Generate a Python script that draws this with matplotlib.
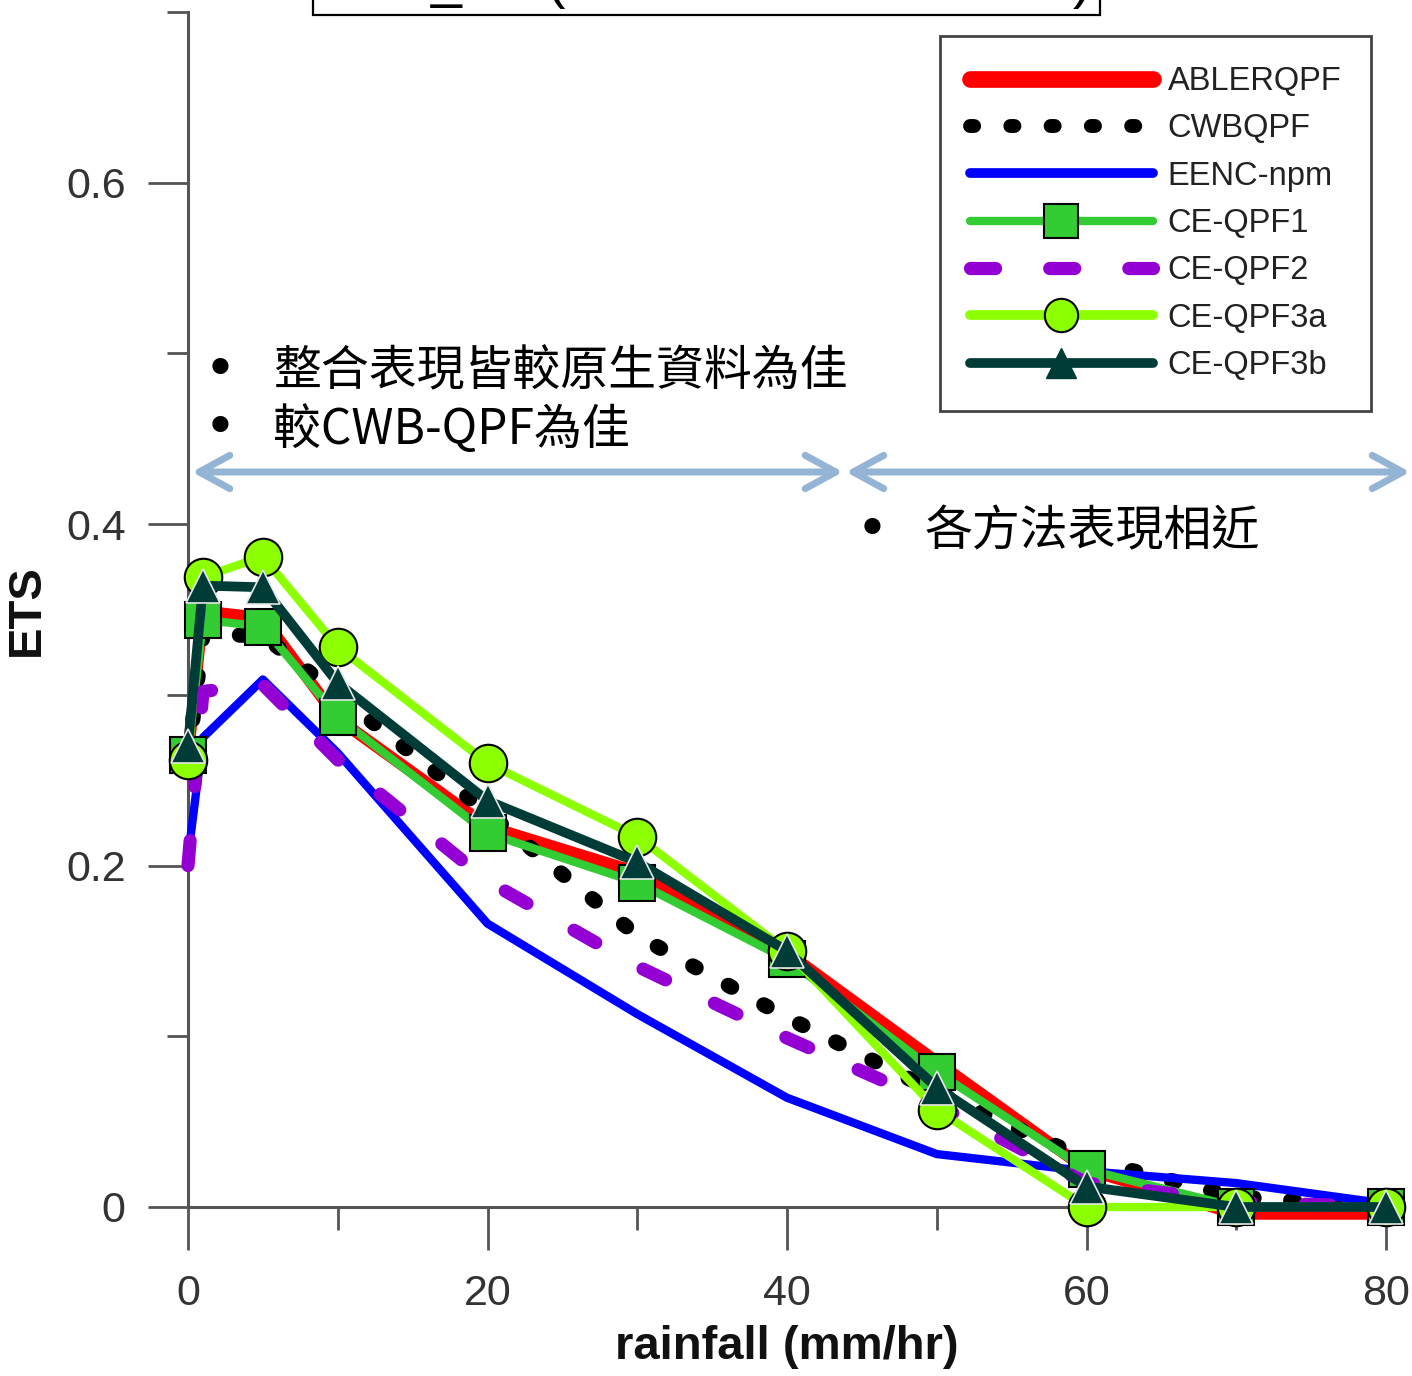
import matplotlib
matplotlib.use("Agg")
import matplotlib.pyplot as plt
from matplotlib.lines import Line2D
from matplotlib.patches import FancyArrowPatch, Rectangle

# ---- data -------------------------------------------------------------
rain = [0, 1, 5, 10, 20, 30, 40, 50, 60, 70, 80]

ablerqpf = [0.265, 0.349, 0.345, 0.286, 0.223, 0.196, 0.149, 0.085, 0.022, -0.004, -0.004]
cwbqpf   = [0.262, 0.335, 0.335, 0.300, 0.231, 0.159, 0.111, 0.067, 0.028, 0.006, 0.000]
eenc_npm = [0.205, 0.275, 0.309, 0.266, 0.166, 0.113, 0.064, 0.031, 0.021, 0.014, 0.002]
ce_qpf1  = [0.265, 0.344, 0.340, 0.287, 0.219, 0.190, 0.145, 0.079, 0.022, 0.000, 0.000]
ce_qpf2  = [0.200, 0.302, 0.306, 0.262, 0.191, 0.141, 0.099, 0.060, 0.014, 0.003, 0.000]
ce_qpf3a = [0.262, 0.369, 0.381, 0.328, 0.260, 0.217, 0.150, 0.057, 0.000, 0.000, 0.000]
ce_qpf3b = [0.270, 0.364, 0.363, 0.307, 0.238, 0.202, 0.150, 0.070, 0.012, 0.000, 0.000]

series_names = ["ABLERQPF", "CWBQPF", "EENC-npm", "CE-QPF1", "CE-QPF2", "CE-QPF3a", "CE-QPF3b"]
series_values = [ablerqpf, cwbqpf, eenc_npm, ce_qpf1, ce_qpf2, ce_qpf3a, ce_qpf3b]

x_major = [0, 20, 40, 60, 80]
x_minor = [10, 30, 50, 70]
y_major = [0, 0.2, 0.4, 0.6]
y_major_labels = ["0", "0.2", "0.4", "0.6"]
y_minor = [0.1, 0.3, 0.5, 0.7]

note_left = ["整合表現皆較原生資料為佳", "較CWB-QPF為佳"]
note_right = "各方法表現相近"

# ---- figure -----------------------------------------------------------
plt.rcParams["font.family"] = ["Liberation Sans", "DejaVu Sans"]
W, H, DPI = 1412, 1376, 100
fig = plt.figure(figsize=(W / DPI, H / DPI), dpi=DPI)
fig.patch.set_facecolor("white")


def fx(px):
    return px / W


def fy(py):
    return 1 - py / H


X0, X1, Y0, Y1 = 188, 1386, 1207, 12
ax = fig.add_axes([fx(X0), fy(Y0), (X1 - X0) / W, (Y0 - Y1) / H])
ax.set_xlim(0, 80)
ax.set_ylim(0, 0.7)

DOTS = (0, (0.25, 2.4))
DASHES = (0, (1.9, 4.1))

line_styles = [
    dict(color="#FF0000", lw=8.5, solid_capstyle="round", solid_joinstyle="round"),
    dict(color="black", lw=11, linestyle=DOTS, dash_capstyle="round"),
    dict(color="#0000FF", lw=6, solid_capstyle="round", solid_joinstyle="round"),
    dict(color="#33CC33", lw=6, marker="s", ms=26.5, mfc="#33CC33", mec="black", mew=1.5),
    dict(color="#9400D3", lw=9.5, linestyle=DASHES, dash_capstyle="round"),
    dict(color="#8CFF00", lw=6, marker="o", ms=27, mfc="#8CFF00", mec="black", mew=1.5),
    dict(color="#003C37", lw=7, marker="^", ms=25, mfc="#003C37", mec="#E6E6E6", mew=1.2),
]

for i, (vals, st) in enumerate(zip(series_values, line_styles)):
    ax.plot(rain, vals, clip_on=False, zorder=3 + i, **st)

# ---- axes styling -----------------------------------------------------
for side in ("top", "right"):
    ax.spines[side].set_visible(False)
for side in ("left", "bottom"):
    ax.spines[side].set_color("#555555")
    ax.spines[side].set_linewidth(2.2)

ax.set_xticks(x_major)
ax.set_xticks(x_minor, minor=True)
ax.set_yticks(y_major, labels=y_major_labels)
ax.set_yticks(y_minor, minor=True)

ax.tick_params(axis="x", which="major", direction="out", length=31, width=2,
               color="#555555", pad=17, labelsize=31, labelcolor="#333333")
ax.tick_params(axis="x", which="minor", direction="out", length=16.5, width=2,
               color="#555555")
ax.tick_params(axis="y", which="major", direction="out", length=29, width=2,
               color="#555555", pad=16, labelsize=31, labelcolor="#333333")
ax.tick_params(axis="y", which="minor", direction="out", length=15, width=2,
               color="#555555")

ax.set_xlabel("rainfall (mm/hr)", fontsize=34, fontweight="bold", color="#111111")
ax.xaxis.label.set_va("center")
ax.xaxis.set_label_coords(0.5, (Y0 - 1347) / (Y0 - Y1))
ax.set_ylabel("ETS", fontsize=34, fontweight="bold", color="#111111")
ax.yaxis.label.set_va("center")
ax.yaxis.set_label_coords((27 - X0) / (X1 - X0), (Y0 - 610) / (Y0 - Y1))

# ---- legend -----------------------------------------------------------
legend_styles = [
    dict(color="#FF0000", lw=12, solid_capstyle="round"),
    dict(color="black", lw=10, linestyle=(0, (0.3, 2.6)), dash_capstyle="round"),
    dict(color="#0000FF", lw=7, solid_capstyle="round"),
    dict(color="#33CC33", lw=6, solid_capstyle="round", marker="s", ms=24,
         mfc="#33CC33", mec="black", mew=1.5),
    dict(color="#9400D3", lw=9.5, linestyle=DASHES, dash_capstyle="round"),
    dict(color="#8CFF00", lw=7, solid_capstyle="round", marker="o", ms=24,
         mfc="#8CFF00", mec="black", mew=1.5),
    dict(color="#003C37", lw=7, solid_capstyle="round", marker="^", ms=22,
         mfc="#003C37", mec="#003C37", mew=1),
]
handles = [Line2D([], [], **st) for st in legend_styles]
leg = ax.legend(handles, series_names, loc="upper left",
                bbox_to_anchor=(fx(940), fy(36)), bbox_transform=fig.transFigure,
                borderaxespad=0, handlelength=5.6, handletextpad=0.45,
                labelspacing=0.5, borderpad=0.92, fancybox=False, framealpha=1,
                edgecolor="#444444", numpoints=1,
                prop=dict(family="Liberation Sans", size=23.5))
leg.get_frame().set_linewidth(2)
leg.set_zorder(20)
for t in leg.get_texts():
    t.set_color("#222222")

# ---- annotations ------------------------------------------------------
cjk = ["Noto Sans CJK TC", "DejaVu Sans"]
note_rows = [372, 430]
for text, yy in zip(note_left, note_rows):
    fig.text(fx(220), fy(yy), "•", fontsize=40, family="DejaVu Sans",
             ha="center", va="center")
    fig.text(fx(273), fy(yy), text, fontsize=34.5, family=cjk, ha="left", va="center")
fig.text(fx(872), fy(532), "•", fontsize=40, family="DejaVu Sans",
         ha="center", va="center")
fig.text(fx(925), fy(532), note_right, fontsize=34.5, family=cjk, ha="left", va="center")

arrow_color = "#93B4D4"
for xa, xb in [(192, 843), (846, 1410)]:
    arr = FancyArrowPatch((fx(xa), fy(472)), (fx(xb), fy(472)),
                          transform=fig.transFigure,
                          arrowstyle="<->,head_length=22,head_width=12",
                          mutation_scale=1, lw=5, color=arrow_color,
                          shrinkA=0, shrinkB=0, capstyle="round", joinstyle="round")
    fig.add_artist(arr)

# title box running off the top edge
box = Rectangle((fx(313), fy(15)), fx(1100) - fx(313), 0.05,
                transform=fig.transFigure, facecolor="white",
                edgecolor="black", lw=1.6, clip_on=False)
fig.add_artist(box)
for ch, xc in [("_", 446), ("(", 556), (")", 1082)]:
    fig.text(fx(xc), fy(-3), ch, fontsize=40, ha="center", va="baseline", color="black")

fig.savefig("out.png", dpi=DPI, facecolor="white")
